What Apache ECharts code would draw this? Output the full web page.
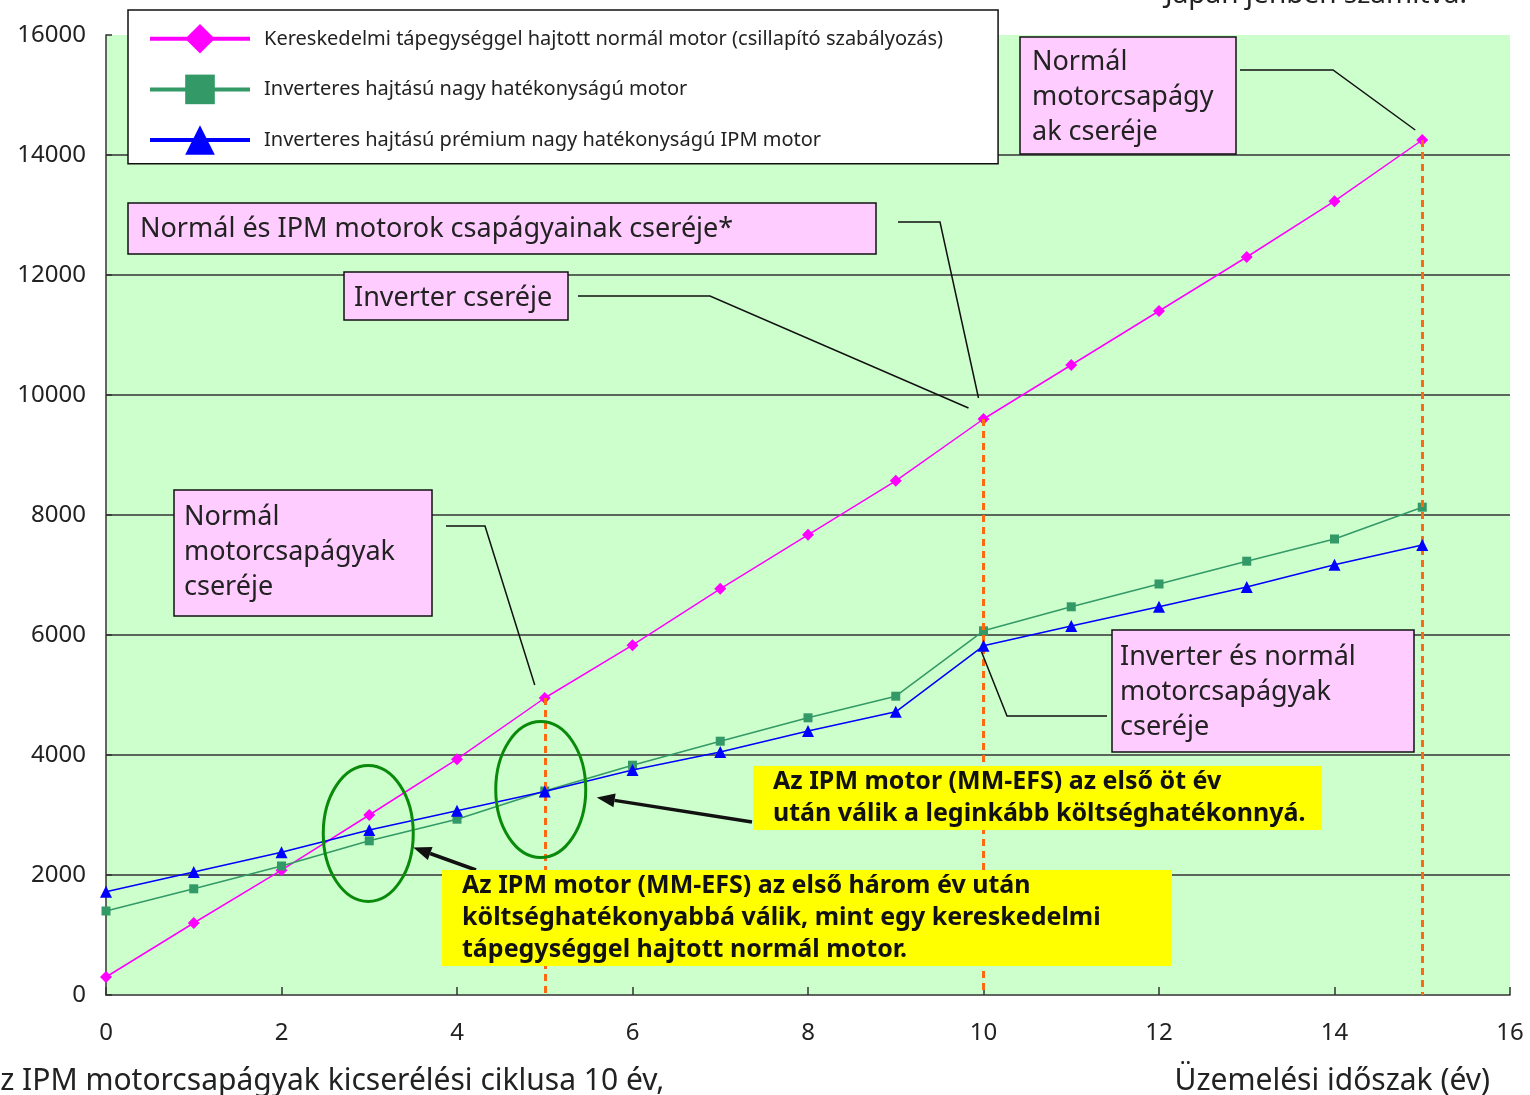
<!DOCTYPE html>
<html>
<head>
<meta charset="utf-8">
<script src="https://cdn.jsdelivr.net/npm/echarts@6/dist/echarts.min.js"></script>
<style>
  html, body { margin: 0; padding: 0; background: #ffffff; }
  #chart { width: 1530px; height: 1095px; }
</style>
</head>
<body>
<div id="chart"></div>
<script>
// Operating period in years
const years = [0, 1, 2, 3, 4, 5, 6, 7, 8, 9, 10, 11, 12, 13, 14, 15];

// Cumulative cost for the three drive variants
const normalMotor   = [300, 1200, 2080, 3000, 3930, 4950, 5830, 6770, 7670, 8570, 9600, 10500, 11400, 12300, 13230, 14250];
const inverterMotor = [1400, 1770, 2150, 2570, 2930, 3400, 3830, 4230, 4620, 4980, 6070, 6470, 6850, 7230, 7600, 8130];
const ipmMotor      = [1720, 2050, 2380, 2750, 3070, 3390, 3750, 4050, 4400, 4720, 5820, 6150, 6470, 6800, 7170, 7500];

const seriesNames = [
  'Kereskedelmi tápegységgel hajtott normál motor (csillapító szabályozás)',
  'Inverteres hajtású nagy hatékonyságú motor',
  'Inverteres hajtású prémium nagy hatékonyságú IPM motor'
];

// Axis ticks
const xTicks = [0, 2, 4, 6, 8, 10, 12, 14, 16];
const yTicks = [0, 2000, 4000, 6000, 8000, 10000, 12000, 14000, 16000];

// Years at which bearings / inverters get replaced
const replacementYears = [5, 10, 15];

const FONT = '"Noto Sans", "Open Sans", sans-serif';
const TEXT = '#222222';

const chart = echarts.init(document.getElementById('chart'), null, { renderer: 'canvas' });

const pairs = (arr) => years.map((y, i) => [y, arr[i]]);

const option = {
  animation: false,
  backgroundColor: '#ffffff',
  textStyle: { fontFamily: FONT },
  grid: {
    left: 106, right: 20, top: 35, bottom: 100,
    show: true, backgroundColor: '#ccffcc', borderWidth: 0
  },
  legend: {
    orient: 'vertical',
    left: 128, top: 10,
    itemWidth: 100, itemHeight: 37, itemGap: 21,
    padding: [14, 55, 9, 20],
    backgroundColor: '#ffffff',
    borderColor: '#111111', borderWidth: 1.5, borderRadius: 0,
    lineStyle: { width: 4 },
    textStyle: { fontSize: 20, color: TEXT, fontFamily: FONT, padding: [0, 0, 0, 9] },
    data: seriesNames
  },
  xAxis: {
    type: 'value',
    min: xTicks[0], max: xTicks[xTicks.length - 1], interval: xTicks[1] - xTicks[0],
    axisLine: { show: true, lineStyle: { color: '#333333', width: 1.5 } },
    axisTick: { show: true, inside: true, length: 8, lineStyle: { color: '#333333', width: 1.5 } },
    splitLine: { show: false },
    axisLabel: { fontSize: 24, color: TEXT, margin: 26, fontFamily: FONT }
  },
  yAxis: {
    type: 'value',
    min: yTicks[0], max: yTicks[yTicks.length - 1], interval: yTicks[1] - yTicks[0],
    axisLine: { show: true, lineStyle: { color: '#333333', width: 1.5 } },
    axisTick: { show: true, inside: true, length: 6, lineStyle: { color: '#333333', width: 1.5 } },
    splitLine: { show: true, showMinLine: false, showMaxLine: false, lineStyle: { color: '#333333', width: 1.5 } },
    axisLabel: { fontSize: 24, color: TEXT, margin: 20, fontFamily: FONT, formatter: (v) => String(v) }
  },
  series: [
    {
      name: seriesNames[0],
      type: 'line',
      data: pairs(normalMotor),
      symbol: 'diamond', symbolSize: 12,
      lineStyle: { color: '#ff00ff', width: 1.5 },
      itemStyle: { color: '#ff00ff' },
      z: 3,
      markLine: {
        silent: true,
        symbol: ['none', 'none'],
        label: { show: false },
        lineStyle: { color: '#ff6a10', width: 3, type: [7, 5] },
        data: replacementYears.map((yr) => [
          { coord: [yr, normalMotor[years.indexOf(yr)]] },
          { coord: [yr, 0] }
        ])
      }
    },
    {
      name: seriesNames[1],
      type: 'line',
      data: pairs(inverterMotor),
      symbol: 'rect', symbolSize: 9,
      lineStyle: { color: '#339966', width: 1.5 },
      itemStyle: { color: '#339966' },
      z: 4
    },
    {
      name: seriesNames[2],
      type: 'line',
      data: pairs(ipmMotor),
      symbol: 'triangle', symbolSize: 12,
      lineStyle: { color: '#0000ff', width: 1.5 },
      itemStyle: { color: '#0000ff' },
      z: 5
    }
  ]
};

chart.setOption(option);

// ---- Annotations: callout boxes, leader lines, highlight ellipses, arrows ----
const toPx = (x, y) => chart.convertToPixel({ gridIndex: 0 }, [x, y]);
const G = [];
const Z = 100;

function box(x, y, w, h, fill) {
  G.push({ type: 'rect', z: Z, shape: { x, y, width: w, height: h },
    style: { fill, stroke: fill === '#ffff00' ? null : '#111111', lineWidth: 1.5 } });
}
function text(x, yFirstCenter, lines, size, lh, bold) {
  G.push({ type: 'text', z: Z + 1, x, y: yFirstCenter - lh / 2,
    style: { text: lines.join('\n'), fontSize: size, fontFamily: FONT, fontWeight: bold ? 'bold' : 'normal',
      fill: bold ? '#111111' : TEXT, lineHeight: lh, verticalAlign: 'top', align: 'left' } });
}
function line(points, width, color) {
  G.push({ type: 'polyline', z: Z, shape: { points },
    style: { stroke: color || '#111111', lineWidth: width, fill: null } });
}
function arrow(from, tip) {
  const dx = tip[0] - from[0], dy = tip[1] - from[1];
  const len = Math.hypot(dx, dy), ux = dx / len, uy = dy / len;
  const hl = 18, hw = 7;
  const base = [tip[0] - ux * hl, tip[1] - uy * hl];
  line([from, base], 3.5);
  G.push({ type: 'polygon', z: Z, shape: { points: [
    tip, [base[0] - uy * hw, base[1] + ux * hw], [base[0] + uy * hw, base[1] - ux * hw]] },
    style: { fill: '#111111' } });
}
const idx = (yr) => years.indexOf(yr);

// Pink callouts with leader lines ending next to the replacement points
const callouts = [
  { lines: ['Normál', 'motorcsapágy', 'ak cseréje'], rect: [1020, 37, 216, 117], tx: 1032, ty: 62,
    leader: [[1240, 70], [1333, 70]], target: [15, normalMotor[idx(15)]], off: [-7, -10] },
  { lines: ['Normál és IPM motorok csapágyainak cseréje*'], rect: [128, 203, 748, 51], tx: 140, ty: 229,
    leader: [[898, 222], [940, 222]], target: [10, normalMotor[idx(10)]], off: [-5, -21] },
  { lines: ['Inverter cseréje'], rect: [344, 272, 224, 48], tx: 354, ty: 298,
    leader: [[578, 296], [710, 296]], target: [10, normalMotor[idx(10)]], off: [-15, -11] },
  { lines: ['Normál', 'motorcsapágyak', 'cseréje'], rect: [174, 490, 258, 126], tx: 184, ty: 517,
    leader: [[446, 526], [485, 526]], target: [5, normalMotor[idx(5)]], off: [-10, -13] },
  { lines: ['Inverter és normál', 'motorcsapágyak', 'cseréje'], rect: [1112, 630, 302, 122], tx: 1120, ty: 657,
    leader: [[1107, 716], [1007, 716]], target: [10, ipmMotor[idx(10)]], off: [-2, 6] }
];
callouts.forEach((c) => {
  const p = toPx(c.target[0], c.target[1]);
  line(c.leader.concat([[p[0] + c.off[0], p[1] + c.off[1]]]), 1.5);
  box(c.rect[0], c.rect[1], c.rect[2], c.rect[3], '#ffccff');
  text(c.tx, c.ty, c.lines, 27, 35, false);
});

// Ellipses around the break-even points
const e1 = toPx(3, (inverterMotor[idx(3)] + ipmMotor[idx(3)]) / 2);
const e2 = toPx(5, ipmMotor[idx(5)]);
const ellipses = [[e1[0] - 1, e1[1] - 2], [e2[0] - 4, e2[1] - 2]];
ellipses.forEach((c) => {
  G.push({ type: 'ellipse', z: Z, shape: { cx: c[0], cy: c[1], rx: 45, ry: 68 },
    style: { stroke: '#0a8a0a', lineWidth: 3, fill: 'transparent' } });
});

// Yellow notes with arrows pointing at the ellipses
arrow([752, 822], [ellipses[1][0] + 56, ellipses[1][1] + 8]);
arrow([476, 870], [ellipses[0][0] + 45, ellipses[0][1] + 14]);
box(753, 766, 569, 64, '#ffff00');
text(773, 782, ['Az IPM motor (MM-EFS) az első öt év', 'után válik a leginkább költséghatékonnyá.'], 25, 32, true);
box(442, 870, 730, 96, '#ffff00');
text(462, 886, ['Az IPM motor (MM-EFS) az első három év után',
  'költséghatékonyabbá válik, mint egy kereskedelmi',
  'tápegységgel hajtott normál motor.'], 25, 32, true);

// Surrounding notes and axis title
G.push({ type: 'text', z: Z, x: 1165, y: 9,
  style: { text: 'Japán jenben számítva.', fontSize: 28, fontFamily: FONT, fill: TEXT, verticalAlign: 'bottom' } });
G.push({ type: 'text', z: Z, x: -19, y: 1081,
  style: { text: 'Az IPM motorcsapágyak kicserélési ciklusa 10 év,', fontSize: 30, fontFamily: FONT, fill: TEXT, verticalAlign: 'middle' } });
G.push({ type: 'text', z: Z, x: 1490, y: 1081,
  style: { text: 'Üzemelési időszak (év)', fontSize: 30, fontFamily: FONT, fill: TEXT, verticalAlign: 'middle', align: 'right' } });

chart.setOption({ graphic: G });
</script>
</body>
</html>
